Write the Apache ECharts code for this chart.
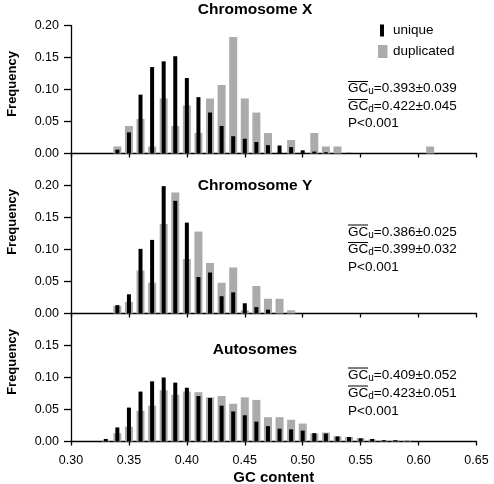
<!DOCTYPE html>
<html><head><meta charset="utf-8">
<script src="https://cdn.jsdelivr.net/npm/echarts@6/dist/echarts.min.js"></script>
<style>html,body{margin:0;padding:0;background:#fff}#c{width:494px;height:484px}</style>
</head><body><div id="c"></div>
<script>
// GC-content bins (bin centres)
const bins = [0.33,0.34,0.35,0.36,0.37,0.38,0.39,0.40,0.41,0.42,0.43,0.44,0.45,0.46,0.47,0.48,0.49,0.50,0.51,0.52,0.53,0.54,0.55,0.56,0.57,0.58,0.59,0.60,0.61];

const chrXUnique = [0,0.006,0.033,0.092,0.135,0.144,0.152,0.118,0.088,0.064,0.043,0.027,0.023,0.018,0.013,0.0125,0.010,0.005,0.003,0.002,0,0.001,0,0,0,0,0,0,0];
const chrXDup    = [0,0.011,0.043,0.054,0.011,0.086,0.043,0.075,0.032,0.086,0.107,0.182,0.086,0.064,0.032,0,0.021,0,0.032,0.011,0.011,0,0,0,0,0,0,0,0.011];

const chrYUnique = [0,0.013,0.030,0.101,0.115,0.199,0.176,0.142,0.057,0.064,0.027,0.033,0.016,0.010,0.006,0,0,0,0,0,0,0,0,0,0,0,0,0,0];
const chrYDup    = [0,0.012,0.018,0.067,0.048,0.140,0.189,0.085,0.128,0.079,0.048,0.072,0.005,0.043,0.023,0.023,0.005,0,0,0,0,0,0,0,0,0,0,0,0];

const autoUnique = [0.004,0.022,0.053,0.078,0.094,0.100,0.092,0.084,0.071,0.068,0.056,0.047,0.041,0.031,0.024,0.020,0.019,0.017,0.013,0.0125,0.008,0.007,0.005,0.004,0.002,0.002,0.001,0,0];
const autoDup    = [0.001,0.013,0.023,0.048,0.056,0.080,0.073,0.078,0.077,0.069,0.071,0.059,0.069,0.065,0.038,0.038,0.034,0.028,0.0125,0.014,0.008,0.007,0.005,0.003,0.002,0.0015,0.001,0,0];

const panelTitles = ['Chromosome X','Chromosome Y','Autosomes'];
const statsU = ['=0.393±0.039','=0.386±0.025','=0.409±0.052'];
const statsD = ['=0.422±0.045','=0.399±0.032','=0.423±0.051'];
const statsP = ['P<0.001','P<0.001','P<0.001'];
const legendNames = ['unique','duplicated'];

const xMin = 0.30, xMax = 0.65, xStep = 0.05;
const yMaxes = [0.20, 0.25, 0.20];
const yTickSets = [[0,0.05,0.10,0.15,0.20],[0,0.05,0.10,0.15,0.20],[0,0.05,0.10,0.15]];

// ---------- layout / style ----------
const FONT = "'Liberation Sans', Arial, Helvetica, sans-serif";
const GRAY = '#ababab';
const gridTops = [25.5, 153.5, 313.5];
const gridHeights = [128, 160, 128];
const gridLeft = 71, gridWidth = 405.5;
const titleY = [9.5, 186, 350];
const freqY = [84, 222, 362];
const statsY = [[88.5,106.5,123],[232,249.5,267],[375,393,411]];

const uniqueSets = [chrXUnique, chrYUnique, autoUnique];
const dupSets = [chrXDup, chrYDup, autoDup];
function pairs(vals){ return bins.map((b,i)=>[b, vals[i]]).filter(d=>d[1]>0); }

const grid = [], xAxis = [], yAxis = [], series = [], graphic = [];
for (let p = 0; p < 3; p++) {
  grid.push({left: gridLeft, width: gridWidth, top: gridTops[p], height: gridHeights[p], containLabel:false, outerBoundsMode:'none'});
  xAxis.push({
    gridIndex: p, type: 'value', min: xMin, max: xMax, interval: xStep,
    axisLine: {show: true, onZero: false, lineStyle: {color: '#000', width: 1.3}},
    axisTick: {show: true, length: 4, lineStyle: {color: '#000', width: 1.3}},
    axisLabel: {show: p === 2, color: '#000', fontSize: 12.5, fontFamily: FONT, margin: 13, formatter: v => v.toFixed(2)},
    splitLine: {show: false},
    name: p === 2 ? 'GC content' : '', nameLocation: 'middle', nameGap: 29,
    nameTextStyle: {color: '#000', fontSize: 15, fontWeight: 'bold', fontFamily: FONT}
  });
  xAxis.push({gridIndex: p, type: 'value', min: xMin, max: xMax, show: false});
  yAxis.push({
    gridIndex: p, type: 'value', min: 0, max: yMaxes[p], interval: 0.05,
    axisLine: {show: true, lineStyle: {color: '#000', width: 1.3}},
    axisTick: {show: true, length: 7, customValues: yTickSets[p], lineStyle: {color: '#000', width: 1.3}},
    axisLabel: {show: true, customValues: yTickSets[p], color: '#000', fontSize: 12.5, fontFamily: FONT, margin: 12, formatter: v => v.toFixed(2)},
    splitLine: {show: false}
  });
  series.push({type: 'bar', name: legendNames[1], xAxisIndex: 2*p, yAxisIndex: p, barWidth: 8,
    data: pairs(dupSets[p]), itemStyle: {color: GRAY}, silent: true, z: 2});
  series.push({type: 'bar', name: legendNames[0], xAxisIndex: 2*p+1, yAxisIndex: p, barWidth: 4,
    data: pairs(uniqueSets[p]), itemStyle: {color: '#000'}, silent: true, z: 3});

  graphic.push({type: 'text', x: 255, y: titleY[p], style: {text: panelTitles[p], font: 'bold 15.5px ' + FONT, fill: '#000', align: 'center', verticalAlign: 'middle'}});
  graphic.push({type: 'text', x: 12, y: freqY[p], rotation: Math.PI/2, style: {text: 'Frequency', font: 'bold 13px ' + FONT, fill: '#000', align: 'center', verticalAlign: 'middle'}});

  const sx = 348;
  const rich = {
    gc: {fontSize: 13.5, fontFamily: FONT, fill: '#000', lineHeight: 16},
    sub: {fontSize: 10, fontFamily: FONT, fill: '#000', lineHeight: 10, verticalAlign: 'bottom'},
    v: {fontSize: 13.5, fontFamily: FONT, fill: '#000', lineHeight: 16}
  };
  const lines = ['{gc|GC}{sub|u}{v|' + statsU[p] + '}', '{gc|GC}{sub|d}{v|' + statsD[p] + '}'];
  for (let k = 0; k < 2; k++) {
    graphic.push({type: 'text', x: sx, y: statsY[p][k], style: {text: lines[k], rich: rich, fontSize: 13.5, fontFamily: FONT, fill: '#000', align: 'left', verticalAlign: 'middle'}});
    graphic.push({type: 'line', shape: {x1: sx, y1: statsY[p][k] - 7, x2: sx + 20, y2: statsY[p][k] - 7}, style: {stroke: '#000', lineWidth: 1}});
  }
  graphic.push({type: 'text', x: sx, y: statsY[p][2], style: {text: statsP[p], font: '13.5px ' + FONT, fill: '#000', align: 'left', verticalAlign: 'middle'}});
}

// legend (panel 1)
graphic.push({type: 'rect', shape: {x: 380, y: 24.5, width: 4, height: 12}, style: {fill: '#000'}});
graphic.push({type: 'text', x: 393, y: 30, style: {text: legendNames[0], font: '13.5px ' + FONT, fill: '#000', align: 'left', verticalAlign: 'middle'}});
graphic.push({type: 'rect', shape: {x: 378, y: 45, width: 9.5, height: 13}, style: {fill: GRAY}});
graphic.push({type: 'text', x: 393, y: 51, style: {text: legendNames[1], font: '13.5px ' + FONT, fill: '#000', align: 'left', verticalAlign: 'middle'}});

const chart = echarts.init(document.getElementById('c'), null, {renderer: 'canvas'});
chart.setOption({
  animation: false,
  backgroundColor: '#fff',
  grid, xAxis, yAxis, series, graphic
});
</script></body></html>
